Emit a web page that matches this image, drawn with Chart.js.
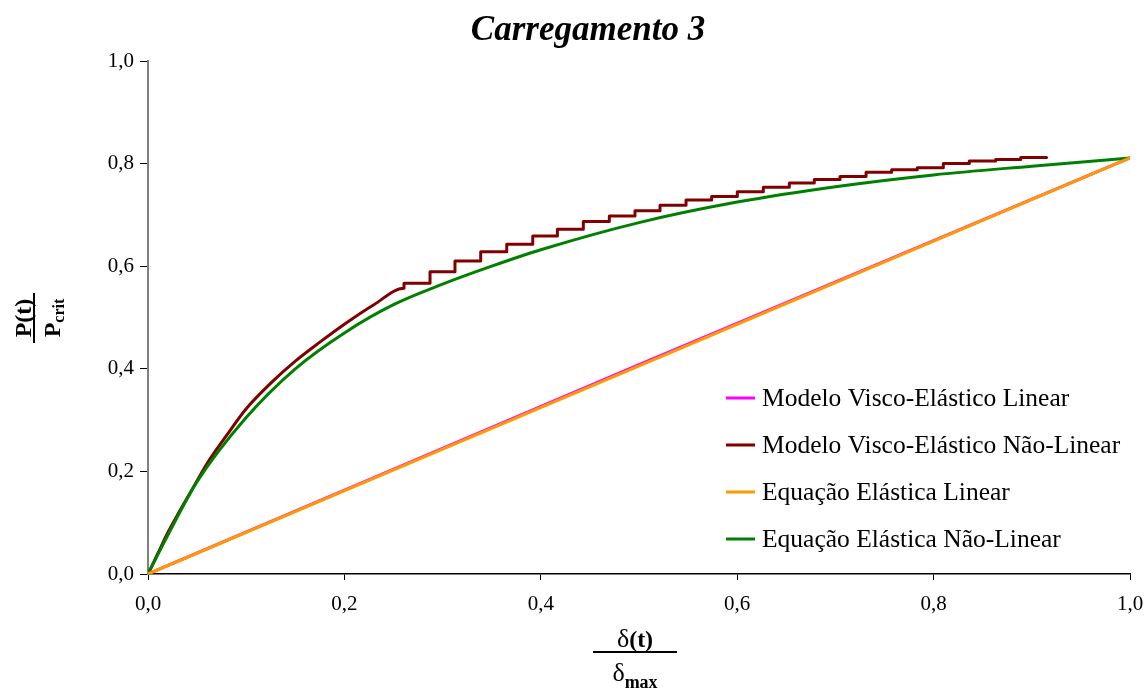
<!DOCTYPE html>
<html lang="pt">
<head>
<meta charset="utf-8">
<title>Carregamento 3</title>
<script src="https://cdn.jsdelivr.net/npm/chart.js@4.4.1/dist/chart.umd.min.js"></script>
<style>
  html, body { margin: 0; padding: 0; background: #fff; }
  #wrap { position: relative; width: 1146px; height: 690px; }
</style>
</head>
<body>
<div id="wrap"><canvas id="chart" width="1146" height="690"></canvas></div>
<script>
// Chart data
const chartTitle = "Carregamento 3"
const seriesNames = [
  "Modelo Visco-Elástico Linear",
  "Modelo Visco-Elástico Não-Linear",
  "Equação Elástica Linear",
  "Equação Elástica Não-Linear",
]
const seriesColors = ["#ff00ff", "#800000", "#ff9900", "#008000"]
const xTickValues = [0, 0.2, 0.4, 0.6, 0.8, 1.0]
const yTickValues = [0, 0.2, 0.4, 0.6, 0.8, 1.0]

// Modelo Visco-Elástico Linear
const viscoLinearX = [0, 0.5, 1.0]
const viscoLinearY = [0, 0.408, 0.811]

// Modelo Visco-Elástico Não-Linear: smooth start, then stepped
const viscoNonLinearX = [0, 0.01, 0.02, 0.03, 0.045, 0.06, 0.08, 0.1, 0.125, 0.15, 0.175, 0.2, 0.23, 0.2607]
const viscoNonLinearY = [0, 0.04, 0.08, 0.115, 0.165, 0.215, 0.27, 0.322, 0.372, 0.415, 0.452, 0.487, 0.525, 0.557]
const stepX = [0.2607, 0.2872, 0.3126, 0.3388, 0.3653, 0.3918, 0.4169, 0.4433, 0.4698, 0.4959, 0.5214, 0.5479,
  0.574, 0.6001, 0.6266, 0.6531, 0.6785, 0.7047, 0.7312, 0.7573, 0.7834, 0.8099, 0.8364, 0.8632, 0.8887]
const stepY = [0.567, 0.589, 0.61, 0.628, 0.643, 0.659, 0.672, 0.687, 0.698, 0.708, 0.719, 0.729,
  0.736, 0.745, 0.754, 0.762, 0.769, 0.775, 0.783, 0.788, 0.792, 0.8, 0.805, 0.808, 0.812]
const viscoNonLinearEnd = [0.915, 0.812]

// Equação Elástica Linear
const elasticLinearX = [0, 1.0]
const elasticLinearY = [0, 0.811]

// Equação Elástica Não-Linear
const elasticNonLinearX = [0, 0.02, 0.05, 0.1, 0.15, 0.2, 0.25, 0.3, 0.35, 0.4, 0.5, 0.6, 0.7, 0.8, 0.9, 1.0]
const elasticNonLinearY = [0, 0.075, 0.18, 0.305, 0.4, 0.47, 0.525, 0.565, 0.6, 0.632, 0.685, 0.725, 0.755, 0.778, 0.795, 0.811]

const serif = "'Liberation Serif', 'Times New Roman', serif"

function toPoints(xs, ys) {
  return xs.map((x, i) => ({ x: x, y: ys[i] }))
}

function buildSteppedPoints() {
  const pts = toPoints(viscoNonLinearX, viscoNonLinearY)
  let prev = viscoNonLinearY[viscoNonLinearY.length - 1]
  stepX.forEach((x, i) => {
    if (pts[pts.length - 1].x !== x) pts.push({ x: x, y: prev })
    pts.push({ x: x, y: stepY[i] })
    prev = stepY[i]
  })
  pts.push({ x: viscoNonLinearEnd[0], y: viscoNonLinearEnd[1] })
  return pts
}

function formatTick(v) {
  return v.toFixed(1).replace(".", ",")
}

// draws title, axis titles (as fractions) and the legend inside the plot
const decorations = {
  id: "decorations",
  afterDraw(chart) {
    const ctx = chart.ctx
    ctx.save()
    ctx.fillStyle = "#000"
    ctx.strokeStyle = "#000"

    // title
    ctx.font = `italic bold 35px ${serif}`
    ctx.textAlign = "center"
    ctx.textBaseline = "alphabetic"
    ctx.fillText(chartTitle, 588, 40)

    // x axis title: δ(t) / δmax
    const cx = 635
    ctx.font = `26px ${serif}`
    const dW = ctx.measureText("δ").width
    ctx.font = `bold 24px ${serif}`
    const tW = ctx.measureText("(t)").width
    let x0 = cx - (dW + tW) / 2
    ctx.textAlign = "left"
    ctx.font = `26px ${serif}`
    ctx.fillText("δ", x0, 647)
    ctx.font = `bold 24px ${serif}`
    ctx.fillText("(t)", x0 + dW, 647)
    ctx.lineWidth = 2
    ctx.beginPath()
    ctx.moveTo(593, 652)
    ctx.lineTo(677, 652)
    ctx.stroke()
    ctx.font = `bold 18px ${serif}`
    const mW = ctx.measureText("max").width
    x0 = cx - (dW + mW) / 2
    ctx.font = `26px ${serif}`
    ctx.fillText("δ", x0, 681)
    ctx.font = `bold 18px ${serif}`
    ctx.fillText("max", x0 + dW, 688)

    // y axis title: P(t) / Pcrit, rotated
    ctx.translate(40, 318)
    ctx.rotate(-Math.PI / 2)
    ctx.font = `bold 24px ${serif}`
    ctx.textAlign = "center"
    ctx.fillText("P(t)", 0, -9)
    ctx.lineWidth = 2
    ctx.beginPath()
    ctx.moveTo(-25, -6)
    ctx.lineTo(25, -6)
    ctx.stroke()
    const pW = ctx.measureText("P").width
    ctx.font = `bold 16px ${serif}`
    const cW = ctx.measureText("crit").width
    ctx.textAlign = "left"
    const d0 = -(pW + cW) / 2
    ctx.font = `bold 24px ${serif}`
    ctx.fillText("P", d0, 20)
    ctx.font = `bold 16px ${serif}`
    ctx.fillText("crit", d0 + pW, 24)
    ctx.restore()

    // legend inside the plot area
    ctx.save()
    ctx.font = `25.5px ${serif}`
    ctx.textAlign = "left"
    ctx.textBaseline = "middle"
    chart.data.datasets.forEach((ds, i) => {
      const y = 398 + i * 47
      ctx.strokeStyle = ds.borderColor
      ctx.lineWidth = 3
      ctx.beginPath()
      ctx.moveTo(726, y)
      ctx.lineTo(755, y)
      ctx.stroke()
      ctx.fillStyle = "#000"
      ctx.fillText(ds.label, 762, y + 1)
    })
    ctx.restore()
  },
}

const datasetOrder = [3, 2, 0, 1]
const seriesPoints = [
  toPoints(viscoLinearX, viscoLinearY),
  buildSteppedPoints(),
  toPoints(elasticLinearX, elasticLinearY),
  toPoints(elasticNonLinearX, elasticNonLinearY),
]

new Chart(document.getElementById("chart"), {
  type: "line",
  data: {
    datasets: seriesNames.map((name, i) => ({
      label: name,
      data: seriesPoints[i],
      borderColor: seriesColors[i],
      backgroundColor: seriesColors[i],
      borderWidth: 3,
      pointRadius: 0,
      cubicInterpolationMode: "monotone",
      borderCapStyle: "round",
      borderJoinStyle: "round",
      fill: false,
      order: datasetOrder[i],
    })),
  },
  options: {
    responsive: false,
    devicePixelRatio: 1,
    animation: false,
    layout: { padding: { top: 61, right: 16, bottom: 76, left: 0 } },
    plugins: {
      legend: { display: false },
      title: { display: false },
      tooltip: { enabled: false },
    },
    scales: {
      x: {
        type: "linear",
        min: 0,
        max: 1,
        afterBuildTicks: (scale) => { scale.ticks = xTickValues.map((v) => ({ value: v })) },
        afterFit: (scale) => {
          scale.height = 40
          scale.paddingLeft = 0
          scale.paddingRight = 0
        },
        border: { color: "#000", width: 1.5 },
        grid: { drawOnChartArea: false, color: "#000", tickLength: 6, tickWidth: 1 },
        ticks: {
          color: "#000",
          padding: 12,
          maxRotation: 0,
          font: { family: serif, size: 21 },
          callback: (v) => formatTick(v),
        },
      },
      y: {
        type: "linear",
        min: 0,
        max: 1,
        afterBuildTicks: (scale) => { scale.ticks = yTickValues.map((v) => ({ value: v })) },
        afterFit: (scale) => { scale.width = 148 },
        border: { color: "#808080", width: 2 },
        grid: { drawOnChartArea: false, color: "#000", tickLength: 8, tickWidth: 1 },
        ticks: {
          color: "#000",
          padding: 6,
          font: { family: serif, size: 21 },
          callback: (v) => formatTick(v),
        },
      },
    },
  },
  plugins: [decorations],
})
</script>
</body>
</html>
